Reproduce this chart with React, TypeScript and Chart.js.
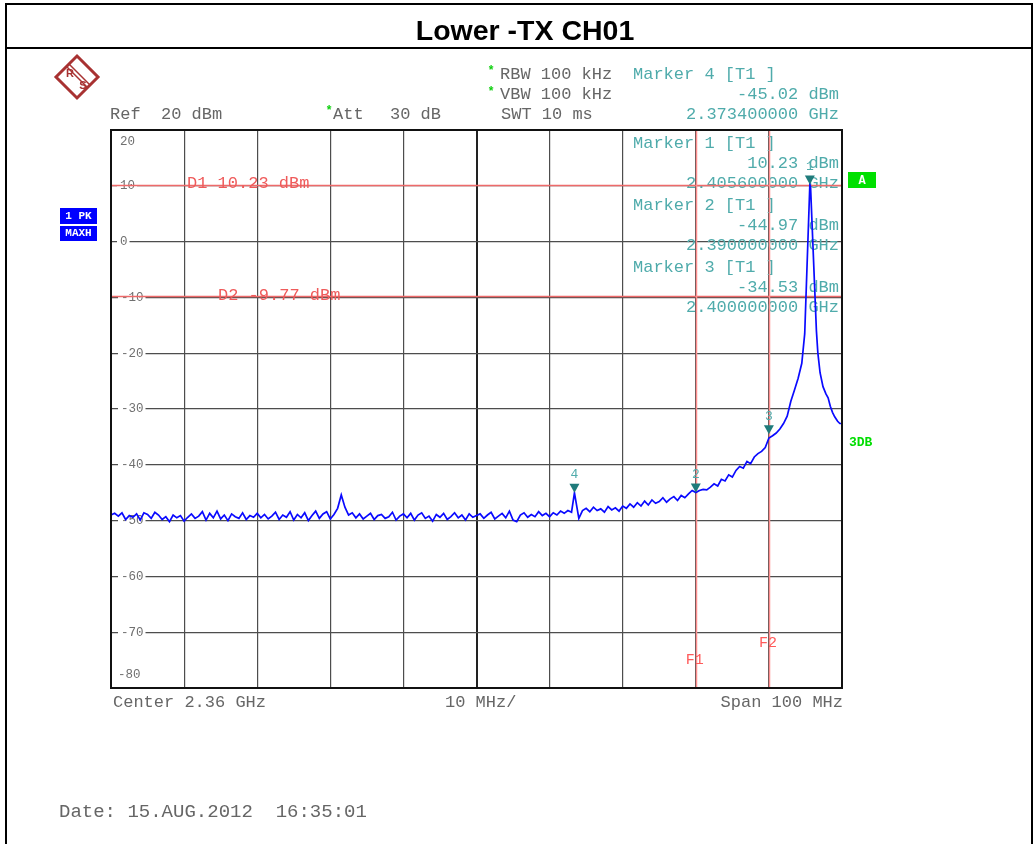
import React, { useEffect, useRef } from "react";
import { Chart, registerables } from "chart.js";

Chart.register(...registerables);

const TITLE = "Lower -TX CH01";

// Sweep points (MHz) and trace levels (dBm)
const FREQ_MHZ = [
  2310.0, 2310.5, 2311.0, 2311.5, 2312.0, 2312.5, 2313.0, 2313.5, 2314.0, 2314.5,
  2315.0, 2315.5, 2316.0, 2316.5, 2317.0, 2317.5, 2318.0, 2318.5, 2319.0, 2319.5,
  2320.0, 2320.5, 2321.0, 2321.5, 2322.0, 2322.5, 2323.0, 2323.5, 2324.0, 2324.5,
  2325.0, 2325.5, 2326.0, 2326.5, 2327.0, 2327.5, 2328.0, 2328.5, 2329.0, 2329.5,
  2330.0, 2330.5, 2331.0, 2331.5, 2332.0, 2332.5, 2333.0, 2333.5, 2334.0, 2334.5,
  2335.0, 2335.5, 2336.0, 2336.5, 2337.0, 2337.5, 2338.0, 2338.5, 2339.0, 2339.5,
  2340.0, 2340.5, 2341.0, 2341.5, 2342.0, 2342.5, 2343.0, 2343.5, 2344.0, 2344.5,
  2345.0, 2345.5, 2346.0, 2346.5, 2347.0, 2347.5, 2348.0, 2348.5, 2349.0, 2349.5,
  2350.0, 2350.5, 2351.0, 2351.5, 2352.0, 2352.5, 2353.0, 2353.5, 2354.0, 2354.5,
  2355.0, 2355.5, 2356.0, 2356.5, 2357.0, 2357.5, 2358.0, 2358.5, 2359.0, 2359.5,
  2360.0, 2360.5, 2361.0, 2361.5, 2362.0, 2362.5, 2363.0, 2363.5, 2364.0, 2364.5,
  2365.0, 2365.5, 2366.0, 2366.5, 2367.0, 2367.5, 2368.0, 2368.5, 2369.0, 2369.5,
  2370.0, 2370.5, 2371.0, 2371.5, 2372.0, 2372.5, 2373.0, 2373.4, 2374.0, 2374.5,
  2375.0, 2375.5, 2376.0, 2376.5, 2377.0, 2377.5, 2378.0, 2378.5, 2379.0, 2379.5,
  2380.0, 2380.5, 2381.0, 2381.5, 2382.0, 2382.5, 2383.0, 2383.5, 2384.0, 2384.5,
  2385.0, 2385.5, 2386.0, 2386.5, 2387.0, 2387.5, 2388.0, 2388.5, 2389.0, 2389.5,
  2390.0, 2390.5, 2391.0, 2391.5, 2392.0, 2392.5, 2393.0, 2393.5, 2394.0, 2394.5,
  2395.0, 2395.5, 2396.0, 2396.5, 2397.0, 2397.5, 2398.0, 2398.5, 2399.0, 2399.5,
  2400.0, 2400.5, 2401.0, 2401.5, 2402.0, 2402.5, 2403.0, 2403.5, 2404.0, 2404.5,
  2404.9, 2405.6, 2405.7, 2406.5, 2406.7, 2407.0, 2407.4, 2407.8, 2408.1, 2408.4,
  2408.7, 2409.0, 2409.4, 2409.7, 2410.0,
];

const LEVEL_DBM = [
  -49.0, -48.7, -49.2, -48.6, -49.8, -49.1, -49.4, -48.8, -49.9, -48.6,
  -48.9, -49.6, -48.5, -49.0, -49.8, -49.3, -50.2, -49.0, -49.5, -49.1,
  -50.1, -49.4, -48.8, -49.6, -49.2, -48.4, -49.9, -48.7, -49.5, -48.3,
  -49.7, -49.0, -50.0, -48.8, -49.3, -49.6, -48.6, -49.8, -49.1, -49.4,
  -48.7, -49.5, -48.9, -49.7, -49.2, -48.5, -49.8, -49.0, -49.4, -48.4,
  -49.9, -48.9, -49.5, -48.6, -50.0, -49.1, -48.3, -49.6, -48.8, -48.4,
  -49.7, -48.9, -47.8, -45.4, -47.6, -49.0, -48.6, -49.5, -48.8, -49.7,
  -49.2, -48.7, -49.8, -49.1, -48.9, -49.6, -49.3, -48.5, -49.9, -49.2,
  -48.8, -49.5, -48.7, -49.9, -49.0, -48.6, -49.6, -49.2, -50.1, -48.9,
  -49.4, -48.7, -49.8, -49.3, -48.6, -49.5, -49.0, -49.9, -48.8, -49.4,
  -49.1, -48.8, -49.6, -49.0, -48.5, -49.7, -49.2, -48.7, -49.5, -48.3,
  -49.9, -50.2, -49.0, -48.6, -49.4, -48.9, -49.3, -48.4, -49.1, -48.7,
  -49.3, -48.6, -49.0, -48.3, -48.7, -48.2, -48.5, -45.02, -49.6, -48.2,
  -47.8, -48.4, -47.6, -48.2, -47.9, -48.5, -47.5, -48.1, -47.7, -48.3,
  -47.4, -47.8, -47.0, -47.6, -46.8, -47.4, -46.5, -47.2, -46.3, -46.9,
  -46.6, -45.9, -46.7, -46.1, -45.7, -46.4, -45.5, -45.9, -45.2, -44.6,
  -44.97, -44.6, -44.4, -44.5, -44.0, -43.4, -43.8, -42.6, -42.9, -41.8,
  -42.2, -41.0, -40.3, -40.6, -39.4, -39.8, -38.6, -38.0, -37.6, -36.9,
  -35.2, -34.8, -34.3, -33.6, -32.6, -31.3, -28.6, -26.6, -24.5, -21.8,
  -16.5, 10.23, 9.8, -16.0, -20.0, -23.5, -26.0, -27.3, -28.0, -29.5,
  -30.6, -31.4, -32.2, -32.6, -32.6,
];

const Y_TICKS = [20, 10, 0, -10, -20, -30, -40, -50, -60, -70, -80];
const X_MIN_MHZ = 2310;
const X_MAX_MHZ = 2410;

const MARKER_IDS = ["1", "2", "3", "4"];
const MARKER_FREQ = [2405.6, 2390.0, 2400.0, 2373.4];
const MARKER_LEVEL = [10.23, -44.97, -34.53, -45.02];

const DLINE_LEVELS = [10.23, -9.77];
const DLINE_LABELS = ["D1 10.23 dBm", "D2 -9.77 dBm"];

const FLINE_NAMES = ["F1", "F2"];
const FLINE_FREQ = [2390, 2400];

const MONO = '"Liberation Mono", "Courier New", monospace';
const SANS = '"Liberation Sans", Arial, sans-serif';
const TEAL = "#4fabab";
const GRAY_TXT = "#666666";

function text(
  ctx: CanvasRenderingContext2D,
  s: string,
  x: number,
  y: number,
  color: string,
  font: string,
  align: CanvasTextAlign = "left"
) {
  ctx.save();
  ctx.font = font;
  ctx.fillStyle = color;
  ctx.textAlign = align;
  ctx.textBaseline = "middle";
  ctx.fillText(s, x, y);
  ctx.restore();
}

const decor = {
  id: "decor",
  beforeDatasetsDraw(chart: any) {
    const ctx: CanvasRenderingContext2D = chart.ctx;
    const xs = chart.scales.x;
    const ys = chart.scales.y;
    const a = chart.chartArea;
    const TF = `12.5px ${MONO}`;
    ctx.save();
    ctx.font = TF;
    for (const v of Y_TICKS) {
      const y = ys.getPixelForValue(v);
      const s = String(v);
      if (v === Y_TICKS[0]) {
        text(ctx, s, 120, y + 12, "#707070", TF);
        continue;
      }
      if (v === Y_TICKS[Y_TICKS.length - 1]) {
        text(ctx, s, 118, y - 13, "#707070", TF);
        continue;
      }
      const w = ctx.measureText(s).width;
      const x0 = v < 0 ? 121 : 120;
      ctx.fillStyle = "#fff";
      ctx.fillRect(x0 - 3, y - 4, w + 5, 8);
      text(ctx, s, x0, y, "#707070", TF);
    }
    ctx.restore();

    const F17 = `17px ${MONO}`;
    const info = [
      [0, 143],
      [1, 205],
      [2, 267],
    ];
    for (const [mi, y0] of info) {
      text(ctx, `Marker ${MARKER_IDS[mi]} [T1 ]`, 633, y0, TEAL, F17);
      text(ctx, `${MARKER_LEVEL[mi].toFixed(2)} dBm`, 839, y0 + 20, TEAL, F17, "right");
      text(ctx, `${(MARKER_FREQ[mi] / 1000).toFixed(9)} GHz`, 839, y0 + 40, TEAL, F17, "right");
    }

    ctx.save();
    ctx.beginPath();
    ctx.rect(a.left, a.top, a.right - a.left, a.bottom - a.top);
    ctx.clip();
    ctx.strokeStyle = "#ee6a6a";
    ctx.lineWidth = 1.5;
    DLINE_LEVELS.forEach((lv) => {
      const y = Math.round(ys.getPixelForValue(lv)) + 0.5;
      ctx.beginPath();
      ctx.moveTo(a.left, y);
      ctx.lineTo(a.right, y);
      ctx.stroke();
    });
    ctx.strokeStyle = "#ff8f8f";
    FLINE_FREQ.forEach((f) => {
      const x = Math.round(xs.getPixelForValue(f)) + 0.5;
      ctx.beginPath();
      ctx.moveTo(x, a.top);
      ctx.lineTo(x, a.bottom);
      ctx.stroke();
    });
    ctx.restore();
    text(ctx, DLINE_LABELS[0], 187, ys.getPixelForValue(DLINE_LEVELS[0]) - 1, "#ef5b5b", F17);
    text(ctx, DLINE_LABELS[1], 218, ys.getPixelForValue(DLINE_LEVELS[1]) - 1, "#ef5b5b", F17);
    text(ctx, FLINE_NAMES[0], xs.getPixelForValue(FLINE_FREQ[0]) - 10, 660, "#ff5a5a", `15px ${MONO}`);
    text(ctx, FLINE_NAMES[1], xs.getPixelForValue(FLINE_FREQ[1]) - 10, 643, "#ff5a5a", `15px ${MONO}`);
  },
  afterDatasetsDraw(chart: any) {
    const ctx: CanvasRenderingContext2D = chart.ctx;
    const xs = chart.scales.x;
    const ys = chart.scales.y;
    const a = chart.chartArea;
    MARKER_IDS.forEach((id, i) => {
      const x = xs.getPixelForValue(MARKER_FREQ[i]);
      const y = ys.getPixelForValue(MARKER_LEVEL[i]);
      ctx.save();
      ctx.fillStyle = "#1f7b7b";
      ctx.beginPath();
      ctx.moveTo(x - 5, y - 9);
      ctx.lineTo(x + 5, y - 9);
      ctx.lineTo(x, y);
      ctx.closePath();
      ctx.fill();
      ctx.restore();
      text(ctx, id, x, y - 18, TEAL, `13px ${MONO}`, "center");
    });
    ctx.save();
    ctx.strokeStyle = "#111";
    ctx.lineWidth = 2;
    ctx.strokeRect(a.left, a.top, a.right - a.left, a.bottom - a.top);
    ctx.restore();
  },
  afterDraw(chart: any) {
    const ctx: CanvasRenderingContext2D = chart.ctx;
    const F17 = `17px ${MONO}`;
    ctx.save();
    ctx.strokeStyle = "#000";
    ctx.lineWidth = 2;
    ctx.beginPath();
    ctx.moveTo(6, 850);
    ctx.lineTo(6, 4);
    ctx.lineTo(1032, 4);
    ctx.lineTo(1032, 850);
    ctx.moveTo(6, 48);
    ctx.lineTo(1032, 48);
    ctx.stroke();
    ctx.restore();
    text(ctx, TITLE, 525, 32, "#000", `bold 28.5px ${SANS}`, "center");

    // R&S logo
    ctx.save();
    const cx = 77, cy = 77, r = 21;
    ctx.strokeStyle = "#a83232";
    ctx.lineWidth = 3;
    ctx.beginPath();
    ctx.moveTo(cx, cy - r);
    ctx.lineTo(cx + r, cy);
    ctx.lineTo(cx, cy + r);
    ctx.lineTo(cx - r, cy);
    ctx.closePath();
    ctx.stroke();
    ctx.lineWidth = 1.5;
    ctx.beginPath();
    ctx.moveTo(cx - 11, cy - 11);
    ctx.lineTo(cx + 11, cy + 11);
    ctx.moveTo(cx - 8, cy - 13);
    ctx.lineTo(cx + 13, cy + 8);
    ctx.stroke();
    ctx.restore();
    text(ctx, "R", cx - 7, cy - 3, "#a83232", `bold 11px ${SANS}`, "center");
    text(ctx, "S", cx + 6, cy + 9, "#a83232", `bold 11px ${SANS}`, "center");

    text(ctx, "Ref  20 dBm", 110, 114, GRAY_TXT, F17);
    text(ctx, "*", 329, 111, "#10d010", `bold 12px ${MONO}`, "center");
    text(ctx, "Att", 333, 114, GRAY_TXT, F17);
    text(ctx, "30 dB", 390, 114, GRAY_TXT, F17);
    text(ctx, "*", 491, 71, "#10d010", `bold 12px ${MONO}`, "center");
    text(ctx, "RBW 100 kHz", 500, 74, GRAY_TXT, F17);
    text(ctx, "*", 491, 92, "#10d010", `bold 12px ${MONO}`, "center");
    text(ctx, "VBW 100 kHz", 500, 94, GRAY_TXT, F17);
    text(ctx, "SWT 10 ms", 501, 114, GRAY_TXT, F17);
    text(ctx, `Marker ${MARKER_IDS[3]} [T1 ]`, 633, 74, TEAL, F17);
    text(ctx, `${MARKER_LEVEL[3].toFixed(2)} dBm`, 839, 94, TEAL, F17, "right");
    text(ctx, `${(MARKER_FREQ[3] / 1000).toFixed(9)} GHz`, 839, 114, TEAL, F17, "right");

    ctx.save();
    ctx.fillStyle = "#0000ff";
    ctx.fillRect(60, 208, 37, 16);
    ctx.fillRect(60, 226, 37, 15);
    ctx.fillStyle = "#00e000";
    ctx.fillRect(848, 172, 28, 16);
    ctx.restore();
    text(ctx, "1 PK", 78.5, 216.5, "#fff", `bold 11px ${MONO}`, "center");
    text(ctx, "MAXH", 78.5, 233.5, "#fff", `bold 11px ${MONO}`, "center");
    text(ctx, "A", 862, 180.5, "#fff", `bold 12px ${MONO}`, "center");
    text(ctx, "3DB", 849, 443, "#00dd00", `bold 13px ${MONO}`);

    text(ctx, "Center 2.36 GHz", 113, 702, GRAY_TXT, F17);
    text(ctx, "10 MHz/", 445, 702, GRAY_TXT, F17);
    text(ctx, "Span 100 MHz", 843, 702, GRAY_TXT, F17, "right");
    text(ctx, "Date: 15.AUG.2012  16:35:01", 59, 812, GRAY_TXT, `19px ${MONO}`);
  },
};

export default function App() {
  const ref = useRef<HTMLCanvasElement | null>(null);
  useEffect(() => {
    if (!ref.current) return;
    const points = FREQ_MHZ.map((f, i) => ({ x: f, y: LEVEL_DBM[i] }));
    const chart = new Chart(ref.current, {
      type: "line",
      data: {
        datasets: [
          {
            data: points,
            borderColor: "#0a0aff",
            borderWidth: 1.7,
            pointRadius: 0,
            tension: 0,
            fill: false,
          },
        ],
      },
      options: {
        responsive: false,
        animation: false,
        layout: { padding: { left: 111, right: 193, top: 130, bottom: 156 } },
        plugins: {
          legend: { display: false },
          tooltip: { enabled: false },
          title: { display: false },
        },
        scales: {
          x: {
            type: "linear",
            min: X_MIN_MHZ,
            max: X_MAX_MHZ,
            ticks: { display: false, stepSize: 10 },
            grid: {
              drawTicks: false,
              color: (c: any) => (c.tick && c.tick.value === 2360 ? "#222" : "#4d4d4d"),
              lineWidth: (c: any) => (c.tick && c.tick.value === 2360 ? 2 : 1.2),
            },
            border: { display: false },
          },
          y: {
            min: -80,
            max: 20,
            ticks: { display: false, stepSize: 10 },
            grid: { drawTicks: false, color: "#4d4d4d", lineWidth: 1.2 },
            border: { display: false },
          },
        },
      },
      plugins: [decor],
    } as any);
    return () => chart.destroy();
  }, []);
  return (
    <div style={{ position: "absolute", left: 0, top: 0, width: 1035, height: 844, background: "#fff" }}>
      <canvas ref={ref} width={1035} height={844} style={{ display: "block" }} />
    </div>
  );
}
